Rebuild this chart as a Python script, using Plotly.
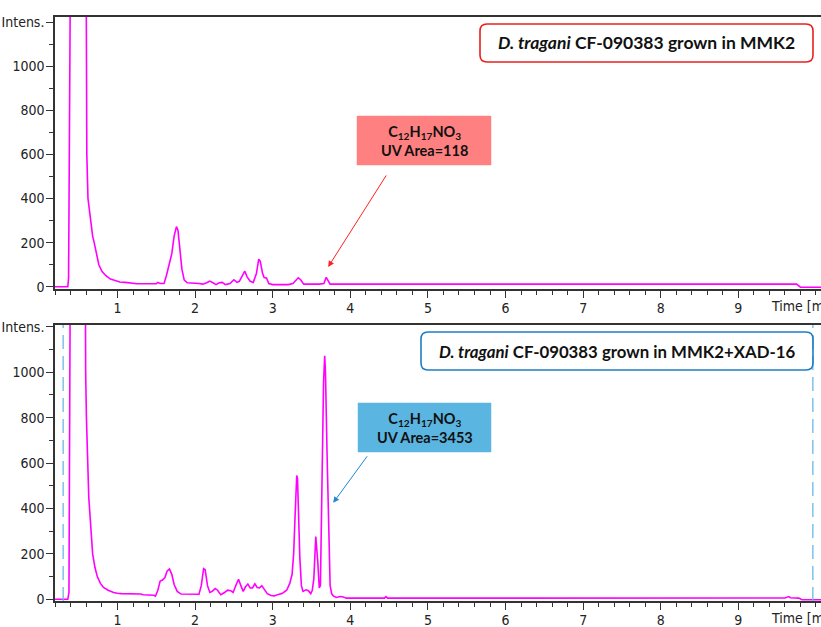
import plotly.graph_objects as go

# ---------------- data ----------------
t_top = [0.195, 0.36, 0.37, 0.39, 0.42, 0.58, 0.597, 0.60, 0.605, 0.62, 0.65, 0.68, 0.70, 0.73, 0.76,
         0.80, 0.85, 0.91, 0.97, 1.03, 1.10, 1.20, 1.25, 1.50, 1.52, 1.55, 1.60, 1.63, 1.67, 1.70,
         1.73, 1.76, 1.78, 1.80, 1.83, 1.86, 1.90, 2.05, 2.10, 2.15, 2.19, 2.23, 2.27, 2.31, 2.35,
         2.39, 2.45, 2.50, 2.54, 2.57, 2.61, 2.64, 2.67, 2.71, 2.75, 2.79, 2.82, 2.84, 2.87, 2.89,
         2.92, 2.95, 3.00, 3.20, 3.26, 3.30, 3.33, 3.36, 3.40, 3.60, 3.66, 3.69, 3.72, 3.74, 9.75,
         9.80, 10.07]
i_top = [0, 0, 40, 1300, 3000, 3000, 1300, 1000, 600, 400, 300, 230, 200, 150, 100,
         70, 50, 35, 28, 22, 20, 18, 14, 14, 20, 15, 15, 50, 110, 150,
         230, 273, 255, 180, 80, 30, 18, 15, 12, 18, 26, 18, 10, 18, 20,
         10, 15, 32, 20, 25, 55, 71, 45, 25, 20, 60, 125, 115, 60, 42,
         40, 15, 10, 10, 15, 33, 41, 32, 12, 12, 15, 43, 25, 12, 12,
         -2, -2]

t_bot = [0.195, 0.36, 0.375, 0.39, 0.41, 0.57, 0.585, 0.59, 0.60, 0.615, 0.63, 0.64, 0.66, 0.68, 0.71,
         0.74, 0.78, 0.82, 0.88, 0.95, 1.00, 1.05, 1.30, 1.33, 1.47, 1.49, 1.52, 1.55, 1.58, 1.61,
         1.64, 1.67, 1.70, 1.73, 1.77, 1.82, 2.05, 2.08, 2.11, 2.13, 2.16, 2.19, 2.22, 2.26, 2.29,
         2.33, 2.38, 2.42, 2.46, 2.49, 2.53, 2.56, 2.59, 2.62, 2.65, 2.68, 2.71, 2.74, 2.77, 2.80,
         2.83, 2.86, 2.89, 2.93, 2.98, 3.02, 3.06, 3.12, 3.18, 3.22, 3.25, 3.27, 3.29, 3.31, 3.32,
         3.335, 3.35, 3.37, 3.39, 3.43, 3.46, 3.49, 3.51, 3.53, 3.555, 3.58, 3.60, 3.615, 3.64, 3.655,
         3.67, 3.68, 3.70, 3.72, 3.74, 3.76, 3.78, 3.82, 3.87, 3.91, 3.95, 4.44, 4.46, 4.48, 9.60,
         9.65, 9.67, 9.78, 9.82, 10.07]
i_bot = [0, 0, 30, 1300, 3000, 3000, 1300, 1000, 800, 600, 450, 400, 280, 200, 140,
         100, 70, 52, 40, 30, 27, 25, 23, 20, 18, 14, 40, 80, 85, 95,
         125, 133, 110, 65, 35, 23, 22, 60, 135, 130, 60, 30, 35, 47, 40,
         20, 30, 40, 38, 30, 65, 88, 60, 35, 55, 67, 50, 50, 68, 52,
         50, 60, 45, 25, 17, 15, 20, 25, 40, 70, 110, 200, 380, 545, 530,
         330, 180, 60, 35, 42, 38, 25, 40, 90, 276, 170, 50, 60, 645, 950,
         1072, 1000, 650, 290, 60, 25, 15, 8, 12, 10, 5, 5, 12, 5, 6,
         12, 7, 5, -2, -2]

marker_times = [0.30, 9.96]

x_tickvals = [1, 2, 3, 4, 5, 6, 7, 8, 9]
x_ticktext = ["1", "2", "3", "4", "5", "6", "7", "8", "9"]
y_tickvals = [0, 200, 400, 600, 800, 1000, 1200]
y_ticktext = ["0", "200", "400", "600", "800", "1000", "Intens."]

title_top = "<b><i>D. tragani</i> CF-090383 grown in MMK2</b>"
title_bot = "<b><i>D. tragani</i> CF-090383 grown in MMK2+XAD-16</b>"
box_top = "<b>C<sub>12</sub>H<sub>17</sub>NO<sub>3</sub><br>UV Area=118</b>"
box_bot = "<b>C<sub>12</sub>H<sub>17</sub>NO<sub>3</sub><br>UV Area=3453</b>"

# ---------------- layout geometry ----------------
W, H = 821, 627
ML, MR, MT, MB = 55, 0, 17, 26
PW = W - ML - MR
PH = H - MT - MB
def px2paper(px, py):
    return (px - ML) / PW, (H - MB - py) / PH

top_dom = [px2paper(0, 289)[1], 1.0]
bot_dom = [0.0, px2paper(0, 325)[1]]

TICKFONT = dict(family="Liberation Sans Narrow, Arial Narrow, DejaVu Sans Condensed, sans-serif",
                size=14, color="#222")
BOXFONT = "Lato, Open Sans, sans-serif"
MAG = "#FF00FF"

fig = go.Figure()
fig.add_trace(go.Scatter(x=t_top, y=i_top, mode="lines", line=dict(color=MAG, width=1.6),
                         xaxis="x", yaxis="y", showlegend=False))
fig.add_trace(go.Scatter(x=t_bot, y=i_bot, mode="lines", line=dict(color=MAG, width=1.6),
                         xaxis="x2", yaxis="y2", showlegend=False))

xcommon = dict(range=[0.195, 10.065], tickmode="array", tickvals=x_tickvals, ticktext=x_ticktext,
               ticks="outside", ticklen=7, tickwidth=1.2, tickcolor="#333",
               minor=dict(tickmode="linear", tick0=0, dtick=0.2, ticks="outside", ticklen=4,
                          tickwidth=1, tickcolor="#333"),
               showline=True, linecolor="#333", linewidth=1.5, mirror=True,
               showgrid=False, zeroline=False, tickfont=TICKFONT, fixedrange=True,
               automargin=False, ticklabelstandoff=-2)
ycommon = dict(tickmode="array", tickvals=y_tickvals, ticktext=y_ticktext,
               ticks="outside", ticklen=7, tickwidth=1.2, tickcolor="#333",
               minor=dict(tickmode="linear", tick0=0, dtick=100, ticks="outside", ticklen=4,
                          tickwidth=1, tickcolor="#333"),
               showline=True, linecolor="#333", linewidth=1.5,
               showgrid=False, zeroline=False, tickfont=TICKFONT, fixedrange=True,
               automargin=False, ticklabelstandoff=-1)

fig.update_layout(
    width=W, height=H, margin=dict(l=ML, r=MR, t=MT, b=MB, autoexpand=False),
    paper_bgcolor="white", plot_bgcolor="white",
    xaxis=dict(xcommon, anchor="y", domain=[0, 1]),
    yaxis=dict(ycommon, anchor="x", domain=top_dom, range=[-10, 1223]),
    xaxis2=dict(xcommon, anchor="y2", domain=[0, 1]),
    yaxis2=dict(ycommon, anchor="x2", domain=bot_dom, range=[-7.5, 1208]),
)

# dashed marker lines on the lower chromatogram
for tm in marker_times:
    fig.add_shape(type="line", xref="x2", yref="y2 domain", x0=tm, x1=tm, y0=0, y1=1,
                  line=dict(color="#6BB8E8", width=1.3, dash="14px,7px"))

def rounded_rect(x0, y0, x1, y1, r, color, fill="rgba(0,0,0,0)", width=1.6):
    X0, Y0 = px2paper(x0, y0)
    X1, Y1 = px2paper(x1, y1)
    rx = r / PW
    ry = r / PH
    path = (f"M {X0+rx},{Y0} L {X1-rx},{Y0} Q {X1},{Y0} {X1},{Y0-ry} "
            f"L {X1},{Y1+ry} Q {X1},{Y1} {X1-rx},{Y1} L {X0+rx},{Y1} Q {X0},{Y1} {X0},{Y1+ry} "
            f"L {X0},{Y0-ry} Q {X0},{Y0} {X0+rx},{Y0} Z")
    fig.add_shape(type="path", path=path, xref="paper", yref="paper",
                  line=dict(color=color, width=width), fillcolor=fill, layer="above")

def center_text(x0, y0, x1, y1, text, size, color="#111"):
    cx, cy = px2paper((x0 + x1) / 2, (y0 + y1) / 2)
    fig.add_annotation(x=cx, y=cy, xref="paper", yref="paper", text=text, showarrow=False,
                       xanchor="center", yanchor="middle",
                       font=dict(family=BOXFONT, size=size, color=color))

# title boxes
rounded_rect(480, 24, 813, 62, 7, "#E8201E")
center_text(480, 24, 813, 62, title_top, 17.5)
rounded_rect(421, 332, 813, 370, 7, "#1E7DC3")
center_text(421, 332, 813, 370, title_bot, 16.8)

# compound boxes
rounded_rect(357, 116, 491, 165, 0, "#FF8080", fill="#FF8080", width=0.5)
center_text(357, 116, 491, 165, box_top, 14.5)
rounded_rect(358, 403, 491, 452, 0, "#5BB5E1", fill="#5BB5E1", width=0.5)
center_text(358, 403, 491, 452, box_bot, 14.5)

# arrows
fig.add_annotation(x=3.715, y=90, xref="x", yref="y", text="", showarrow=True,
                   ax=59, ay=-93, arrowhead=2, arrowsize=1.2, arrowwidth=1, arrowcolor="#FF2020",
                   standoff=0)
fig.add_annotation(x=3.78, y=425, xref="x2", yref="y2", text="", showarrow=True,
                   ax=35, ay=-48, arrowhead=2, arrowsize=1.2, arrowwidth=1, arrowcolor="#1E8AD0",
                   standoff=0)

# axis titles "Time [min]"
for py in (306, 618):
    x, y = px2paper(769, py)
    fig.add_annotation(x=x, y=y, xref="paper", yref="paper", text="Time [min]", showarrow=False,
                       xanchor="left", yanchor="middle", font=TICKFONT)

fig.write_html("out.html", config={"displayModeBar": False},
               post_script="document.body.style.margin='0';document.body.style.overflow='hidden';")
